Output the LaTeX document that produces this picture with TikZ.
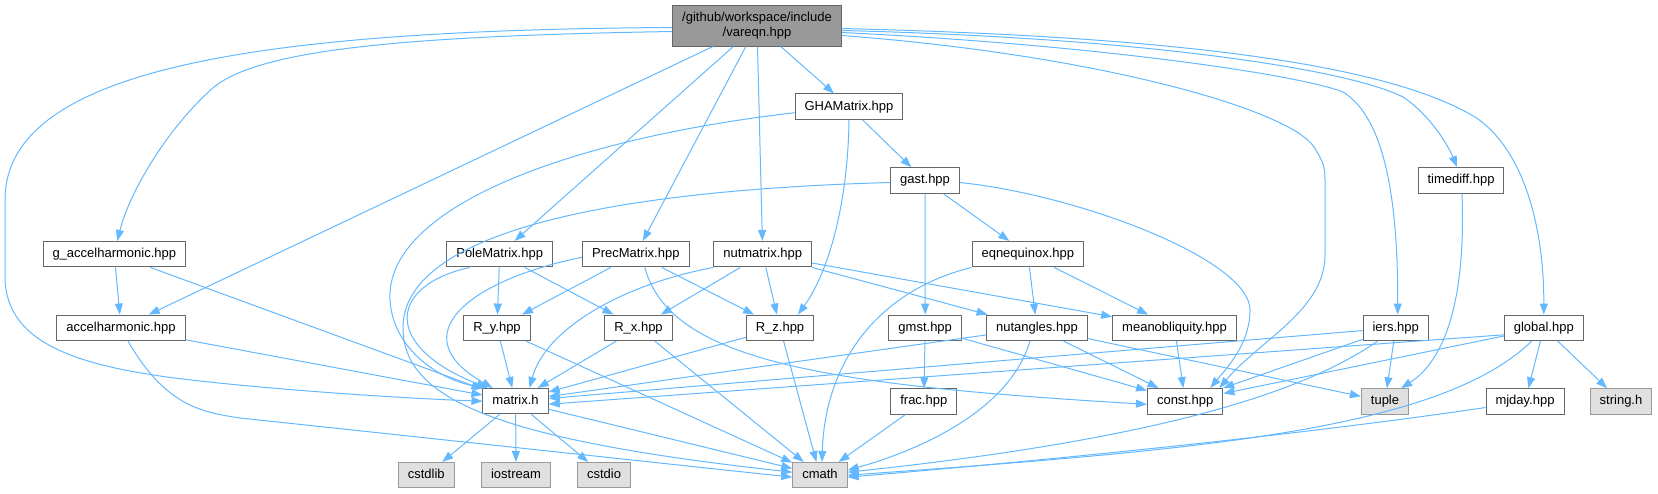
\documentclass[tikz,border=0pt]{standalone}
\usepackage{fontspec}
\setmainfont{Liberation Sans}
\usetikzlibrary{arrows.meta}
\definecolor{inclblue}{HTML}{63B8FF}
\definecolor{hdrline}{HTML}{666666}
\definecolor{sysline}{HTML}{999999}
\definecolor{sysfill}{HTML}{E0E0E0}

\begin{document}
\begin{tikzpicture}[x=1pt, y=-1pt,
    hdr/.style={draw=hdrline, fill=white, line width=1pt, inner xsep=9.5pt, inner ysep=0pt,
                minimum height=25.5pt, text height=9.4pt, text depth=2.8pt,
                font=\fontsize{13}{15.5}\selectfont, text=black},
    syshdr/.style={hdr, draw=sysline, fill=sysfill},
    roothdr/.style={draw=hdrline, fill=sysline, line width=1pt, inner xsep=9.5pt, inner ysep=3pt,
                    minimum height=41pt, align=center, font=\fontsize{13}{15.5}\selectfont},
    incl/.style={draw=inclblue, line width=1pt, -{Triangle[length=11pt,width=8pt]}}]
  \useasboundingbox (0,0) rectangle (1658,493);

  \node[roothdr] (vareqn)   at (757,25.5)     {/github/workspace/include\\/vareqn.hpp};
  \node[hdr]     (gha)      at (849,106.7)    {GHAMatrix.hpp};
  \node[hdr]     (gast)     at (925,180.5)    {gast.hpp};
  \node[hdr]     (timediff) at (1461,180.3)   {timediff.hpp};
  \node[hdr]     (gaccel)   at (114.3,254.2)  {g\_accelharmonic.hpp};
  \node[hdr]     (pole)     at (499.7,254.2)  {PoleMatrix.hpp};
  \node[hdr]     (prec)     at (635.8,254.2)  {PrecMatrix.hpp};
  \node[hdr]     (nutmat)   at (762.7,254.2)  {nutmatrix.hpp};
  \node[hdr]     (eqnequ)   at (1027.8,254.2) {eqnequinox.hpp};
  \node[hdr]     (accel)    at (121,327.8)    {accelharmonic.hpp};
  \node[hdr]     (ry)       at (497,327.8)    {R\_y.hpp};
  \node[hdr]     (rx)       at (638.5,327.8)  {R\_x.hpp};
  \node[hdr]     (rz)       at (780,327.8)    {R\_z.hpp};
  \node[hdr]     (gmst)     at (925.2,327.8)  {gmst.hpp};
  \node[hdr]     (nutang)   at (1036.9,327.8) {nutangles.hpp};
  \node[hdr]     (meanobl)  at (1174.5,327.8) {meanobliquity.hpp};
  \node[hdr]     (iers)     at (1395.7,327.8) {iers.hpp};
  \node[hdr]     (global)   at (1543.8,327.8) {global.hpp};
  \node[hdr]     (matrix)   at (515.6,401.2)  {matrix.h};
  \node[hdr]     (frac)     at (923.8,401.5)  {frac.hpp};
  \node[hdr]     (const)    at (1185.2,401.3) {const.hpp};
  \node[syshdr]  (tuple)    at (1385,401.5)   {tuple};
  \node[hdr]     (mjday)    at (1525,401.5)   {mjday.hpp};
  \node[syshdr]  (stringh)  at (1621,401.5)   {string.h};
  \node[syshdr]  (cstdlib)  at (426.3,475.2)  {cstdlib};
  \node[syshdr]  (iostream) at (516,475.2)    {iostream};
  \node[syshdr]  (cstdio)   at (604,475.2)    {cstdio};
  \node[syshdr]  (cmath)    at (820,475.2)    {cmath};

  % vareqn.hpp
  \draw[incl] ([yshift=-2pt]vareqn.west) .. controls (250,30) and (5,70) .. (5,200) -- (5,280)
      .. controls (8,345) and (80,368) .. (200,381) .. controls (300,392) and (420,399) .. (matrix.west);
  \draw[incl] ([yshift=-6pt]vareqn.west) .. controls (400,36) and (260,50) .. (214,87)
      .. controls (170,125) and (130,190) .. ([xshift=3pt]gaccel.north);
  \draw[incl] (vareqn) -- (accel);
  \draw[incl] (vareqn) -- (pole);
  \draw[incl] (vareqn) -- (prec);
  \draw[incl] (vareqn) -- (nutmat);
  \draw[incl] (vareqn) -- (gha);
  \draw[incl] ([yshift=-10pt]vareqn.east) .. controls (1100,55) and (1290,110) .. (1314,147)
      .. controls (1322,160) and (1325,165) .. (1325,180) -- (1325,255)
      .. controls (1325,310) and (1260,340) .. ([xshift=-4pt]const.north east);
  \draw[incl] ([yshift=-7pt]vareqn.east) .. controls (1100,45) and (1300,75) .. (1343,92)
      .. controls (1385,118) and (1398,200) .. ([xshift=2pt]iers.north);
  \draw[incl] ([yshift=-5pt]vareqn.east) .. controls (1150,38) and (1350,70) .. (1403,97)
      .. controls (1430,115) and (1448,145) .. ([xshift=-4pt]timediff.north);
  \draw[incl] ([yshift=-3pt]vareqn.east) .. controls (1150,36) and (1380,60) .. (1475,117)
      .. controls (1525,150) and (1544,230) .. (global.north);

  % GHAMatrix.hpp, gast.hpp
  \draw[incl] ([yshift=-6pt]gha.west) .. controls (560,140) and (385,210) .. (390,300)
      .. controls (393,350) and (440,380) .. ([xshift=3pt]matrix.north west);
  \draw[incl] (gha.south) .. controls (848,200) and (830,270) .. ([xshift=18pt]rz.north);
  \draw[incl] (gha) -- (gast);
  \draw[incl] ([yshift=-2pt]gast.west) .. controls (620,190) and (400,230) .. (403,330)
      .. controls (405,400) and (500,440) .. ([yshift=3pt]cmath.west);
  \draw[incl] (gast) -- (gmst);
  \draw[incl] (gast) -- (eqnequ);
  \draw[incl] ([yshift=-2pt]gast.east) .. controls (1080,195) and (1250,260) .. (1250,310)
      .. controls (1250,345) and (1225,370) .. ([xshift=25pt]const.north);
  \draw[incl] ([xshift=1pt]timediff.south) .. controls (1466,300) and (1445,360) .. ([xshift=-8pt]tuple.north east);

  % third row
  \draw[incl] (gaccel) -- (accel);
  \draw[incl] (gaccel) -- (matrix);
  \draw[incl] ([xshift=-30pt]pole.south) .. controls (390,285) and (380,345) .. ([xshift=5pt]matrix.north west);
  \draw[incl] (pole) -- (ry);
  \draw[incl] (pole) -- (rx);
  \draw[incl] ([yshift=-3pt]prec.west) .. controls (470,280) and (400,335) .. ([xshift=-23pt]matrix.north);
  \draw[incl] (prec) -- (ry);
  \draw[incl] (prec) -- (rz);
  \draw[incl] ([xshift=9pt]prec.south) .. controls (670,360) and (820,385) .. ([yshift=-3pt]const.west);
  \draw[incl] (nutmat.south west) .. controls (620,285) and (545,330) .. ([xshift=14pt]matrix.north);
  \draw[incl] (nutmat) -- (rx);
  \draw[incl] (nutmat) -- (rz);
  \draw[incl] (nutmat) -- (nutang);
  \draw[incl] (nutmat) -- (meanobl);
  \draw[incl] (eqnequ.south west) .. controls (880,290) and (825,360) .. ([xshift=2pt]cmath.north);
  \draw[incl] (eqnequ) -- (nutang);
  \draw[incl] (eqnequ) -- (meanobl);

  % fourth row
  \draw[incl] (accel) -- (matrix);
  \draw[incl] ([xshift=7pt]accel.south) .. controls (165,405) and (200,412) .. (240,418)
      .. controls (400,435) and (650,462) .. ([yshift=-2pt]cmath.west);
  \draw[incl] (ry) -- (matrix);
  \draw[incl] (ry) -- (cmath);
  \draw[incl] (rx) -- (matrix);
  \draw[incl] (rx) -- (cmath);
  \draw[incl] (rz) -- (matrix);
  \draw[incl] (rz) -- (cmath);
  \draw[incl] (gmst) -- (frac);
  \draw[incl] (gmst) -- (const);
  \draw[incl] (nutang) -- (matrix);
  \draw[incl] (nutang) -- (const);
  \draw[incl] (nutang) -- (tuple);
  \draw[incl] ([xshift=-7pt]nutang.south) .. controls (1010,410) and (920,450) .. ([yshift=5pt]cmath.east);
  \draw[incl] (meanobl) -- (const);
  \draw[incl] (iers) -- (matrix);
  \draw[incl] (iers) -- (const);
  \draw[incl] (iers) -- (tuple);
  \draw[incl] ([xshift=-18pt]iers.south) .. controls (1300,395) and (1150,440) .. ([yshift=3pt]cmath.east);
  \draw[incl] ([yshift=-7pt]global.west) -- ([yshift=-3pt]matrix.east);
  \draw[incl] (global) -- (const);
  \draw[incl] ([xshift=-12pt]global.south) .. controls (1440,430) and (1200,450) .. (cmath.east);
  \draw[incl] (global) -- (mjday);
  \draw[incl] (global) -- (stringh);

  % bottom rows
  \draw[incl] (frac) -- (cmath);
  \draw[incl] ([yshift=-6pt]mjday.west) .. controls (1300,435) and (1050,460) .. ([yshift=-2pt]cmath.east);
  \draw[incl] (matrix) -- (cstdlib);
  \draw[incl] (matrix) -- (iostream);
  \draw[incl] (matrix) -- (cstdio);
  \draw[incl] (matrix) -- (cmath);
\end{tikzpicture}
\end{document}
